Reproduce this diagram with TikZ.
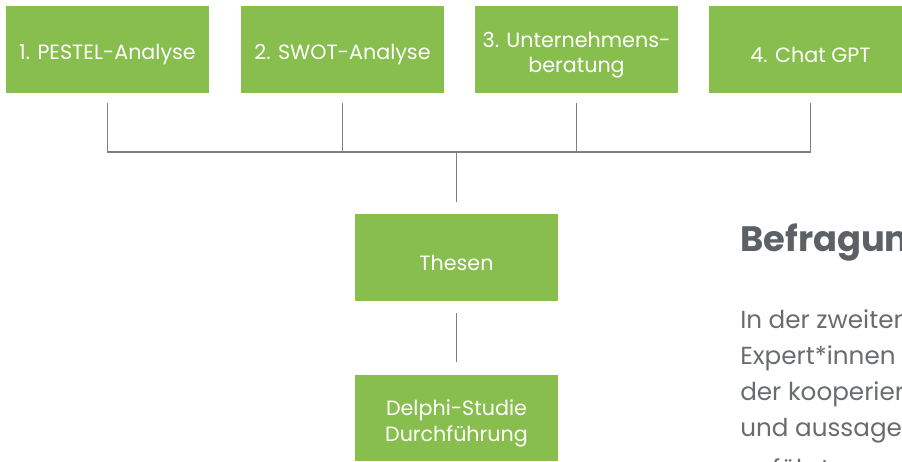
\documentclass[tikz,border=0pt]{standalone}
\usepackage{fontspec}
\setmainfont{Poppins}
\definecolor{boxgreen}{HTML}{88BE4E}
\definecolor{linegray}{HTML}{7F7F7F}
\definecolor{headgray}{HTML}{5D6165}
\definecolor{bodygray}{HTML}{686C70}
\begin{document}
\begin{tikzpicture}[x=0.75pt,y=-0.75pt,
  gbox/.style={rectangle, fill=boxgreen, draw=none, inner sep=0pt,
    minimum width=152.25pt, minimum height=65pt},
  gtext/.style={inner sep=0pt, text=white, align=center, yshift=-4pt,
    font=\fontsize{15.5}{19}\selectfont},
  conn/.style={draw=linegray, line width=1.2pt},
  heading/.style={anchor=base west, inner sep=0pt, text=headgray,
    font=\fontsize{26.5}{30}\selectfont\bfseries},
  bodyline/.style={anchor=base west, inner sep=0pt, text=bodygray,
    font=\fontsize{18.5}{22}\selectfont}]
\useasboundingbox (0,0) rectangle (902,461);
\clip (0,0) rectangle (902,461);

% the four sources
\node[gbox, label={[gtext]center:1. PESTEL-Analyse}] (b1) at (107.5,49.5) {};
\node[gbox, label={[gtext]center:2. SWOT-Analyse}] (b2) at (342.5,49.5) {};
\node[gbox, label={[gtext]center:{3. Unternehmens-\\beratung}}] (b3) at (576.5,49.5) {};
\node[gbox, label={[gtext]center:4. Chat GPT}] (b4) at (810.5,49.5) {};

% results
\node[gbox, label={[gtext]center:Thesen}] (thesen) at (456.5,257.5) {};
\node[gbox, label={[gtext]center:{Delphi-Studie\\Durchführung}}] (delphi) at (456.5,418) {};

% collecting bus
\coordinate (bus) at (456.5,152);
\draw[conn] ([yshift=-7.5pt]b1.south) -- (b1.south |- bus) -- (b4.south |- bus) -- ([yshift=-7.5pt]b4.south);
\draw[conn] ([yshift=-7.5pt]b2.south) -- (b2.south |- bus);
\draw[conn] ([yshift=-7.5pt]b3.south) -- (b3.south |- bus);
\draw[conn] (bus) -- ([yshift=9.2pt]thesen.north);
\draw[conn] ([yshift=-9pt]thesen.south) -- ([yshift=9pt]delphi.north);

% side text
\node[heading] (h) at (740,251) {Befragung};
\node[bodyline] (t1) at (740,328) {In der zweiten Phase};
\node[bodyline] (t2) at (740,364) {Expert*innen aus};
\node[bodyline] (t3) at (740,400) {der kooperierenden};
\node[bodyline] (t4) at (740,436) {und aussagekräftige};
\node[bodyline] (t5) at (740,477) {geführt};
\end{tikzpicture}
\end{document}
